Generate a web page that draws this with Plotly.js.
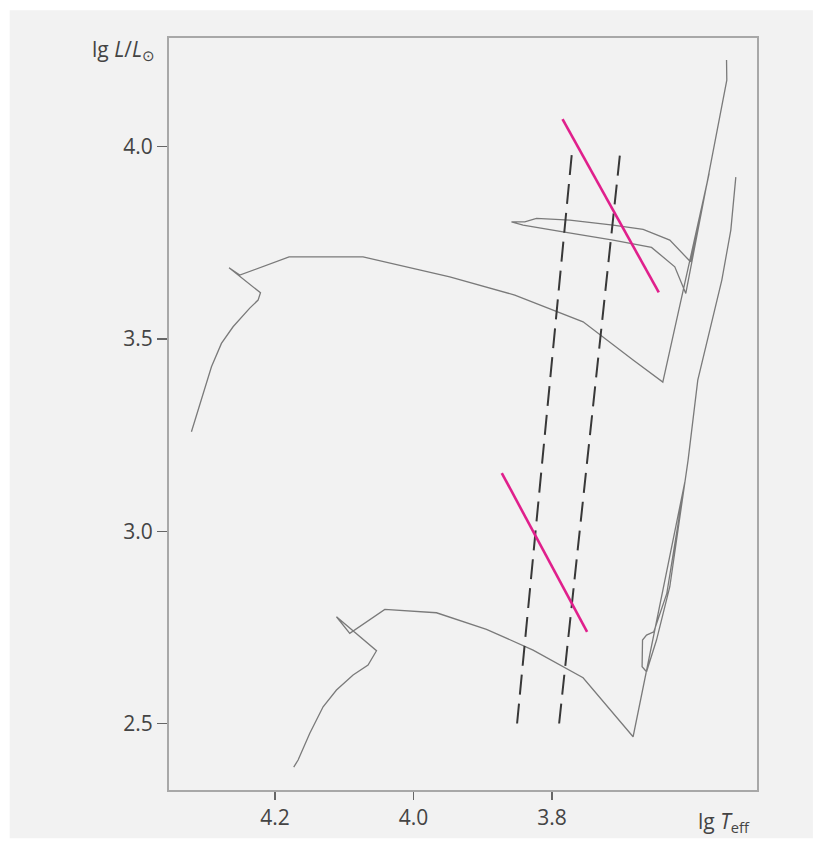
<!DOCTYPE html>
<html>
<head>
<meta charset="utf-8">
<script src="https://cdn.plot.ly/plotly-3.0.1.min.js"></script>
<style>html,body{margin:0;padding:0;background:#fff;}#chart{width:823px;height:844px;}</style>
</head>
<body>
<div id="chart"></div>
<script>
// Upper evolutionary track
const upperT = [4.3206,4.3043,4.2917,4.2773,4.2605,4.2364,4.2244,4.2209,4.2663,4.2508,4.1796,4.0728,3.9476,3.8537,3.7551,3.6829,3.6400,3.5731,3.6000,3.6299,3.6684,3.7118,3.7743,3.8224,3.8393,3.8585,3.8417,3.7840,3.7118,3.6563,3.6227,3.6068,3.5731,3.5476,3.5480];
const upperL = [3.2588,3.3542,3.4278,3.4887,3.5319,3.5805,3.6013,3.6203,3.6853,3.6663,3.7139,3.7139,3.6619,3.6143,3.5449,3.4453,3.3880,3.9308,3.7009,3.7573,3.7852,3.7964,3.8094,3.8138,3.8049,3.8049,3.7964,3.7789,3.7573,3.7384,3.6879,3.6187,3.9308,4.1735,4.2255];
// Lower evolutionary track
const lowerT = [4.1729,4.1666,4.1497,4.1305,4.1112,4.0872,4.0656,4.0534,4.1112,4.0920,4.0414,3.9668,3.8946,3.8273,3.7551,3.6829,3.6082,3.6342,3.6530,3.6635,3.6693,3.6699,3.6635,3.6491,3.6299,3.6035,3.5895,3.5721,3.5548,3.5418,3.5346];
const lowerL = [2.3867,2.4049,2.4744,2.5436,2.5870,2.6260,2.6520,2.6892,2.7776,2.7345,2.7969,2.7880,2.7449,2.6910,2.6190,2.4655,3.1280,2.8385,2.7386,2.7300,2.7170,2.6476,2.6346,2.7170,2.8557,3.1852,3.3932,3.5233,3.6533,3.7834,3.9212];
// Instability strip edges (dashed)
const blueEdgeT = [3.8504, 3.7704];
const redEdgeT = [3.7897, 3.7007];
const edgeL = [2.5, 4.0];
// Magenta lines
const magUpperT = [3.7848, 3.6458];
const magUpperL = [4.0720, 3.6213];
const magLowerT = [3.8725, 3.7493];
const magLowerL = [3.1514, 2.7386];
// Ticks
const xTicks = [4.2, 4.0, 3.8];
const xTickText = ['4.2', '4.0', '3.8'];
const yTicks = [2.5, 3.0, 3.5, 4.0];
const yTickText = ['2.5', '3.0', '3.5', '4.0'];

const trackStyle = {color: '#7a7a7a', width: 1.3};
const dashStyle = {color: '#383838', width: 2, dash: '20px,9px'};
const magStyle = {color: '#e0208c', width: 2.6};

const traces = [
  {x: upperT, y: upperL, mode: 'lines', line: trackStyle, hoverinfo: 'skip'},
  {x: lowerT, y: lowerL, mode: 'lines', line: trackStyle, hoverinfo: 'skip'},
  {x: blueEdgeT, y: edgeL, mode: 'lines', line: dashStyle, hoverinfo: 'skip'},
  {x: redEdgeT, y: edgeL, mode: 'lines', line: dashStyle, hoverinfo: 'skip'},
  {x: magUpperT, y: magUpperL, mode: 'lines', line: magStyle, hoverinfo: 'skip'},
  {x: magLowerT, y: magLowerL, mode: 'lines', line: magStyle, hoverinfo: 'skip'}
];

const fontFam = '"Open Sans", "Noto Sans", sans-serif';
const layout = {
  width: 823, height: 844,
  margin: {l: 169, r: 66, t: 38, b: 54},
  paper_bgcolor: '#ffffff',
  plot_bgcolor: '#f2f2f2',
  showlegend: false,
  font: {family: fontFam, size: 21, color: '#444'},
  xaxis: {
    range: [4.353, 3.504], tickvals: xTicks, ticktext: xTickText,
    showgrid: false, zeroline: false, showline: true, mirror: true,
    linecolor: '#a8a8a8', linewidth: 2,
    ticks: 'outside', ticklen: 8, tickwidth: 1.2, tickcolor: '#666',
    tickfont: {family: fontFam, size: 21, color: '#444'}
  },
  yaxis: {
    range: [2.327, 4.283], tickvals: yTicks, ticktext: yTickText,
    showgrid: false, zeroline: false, showline: true, mirror: true,
    linecolor: '#a8a8a8', linewidth: 2,
    ticks: 'outside', ticklen: 10, tickwidth: 1.2, tickcolor: '#666',
    tickfont: {family: fontFam, size: 21, color: '#444'}
  },
  shapes: [
    {type: 'rect', xref: 'paper', yref: 'paper', x0: -0.271, x1: 1.095, y0: -0.064, y1: 1.037,
     fillcolor: '#f2f2f2', line: {width: 0}, layer: 'below'}
  ],
  annotations: [
    {xref: 'paper', yref: 'paper', x: -0.135, y: 0.984, xanchor: 'left', yanchor: 'middle',
     text: 'lg <i>L</i>/<i>L</i><sub>⊙</sub>', showarrow: false,
     font: {family: fontFam, size: 21, color: '#444'}},
    {xref: 'paper', yref: 'paper', x: 0.896, y: -0.043, xanchor: 'left', yanchor: 'middle',
     text: 'lg <i>T</i><sub>eff</sub>', showarrow: false,
     font: {family: fontFam, size: 21, color: '#444'}}
  ]
};

Plotly.newPlot('chart', traces, layout, {staticPlot: true, displayModeBar: false});
</script>
</body>
</html>
